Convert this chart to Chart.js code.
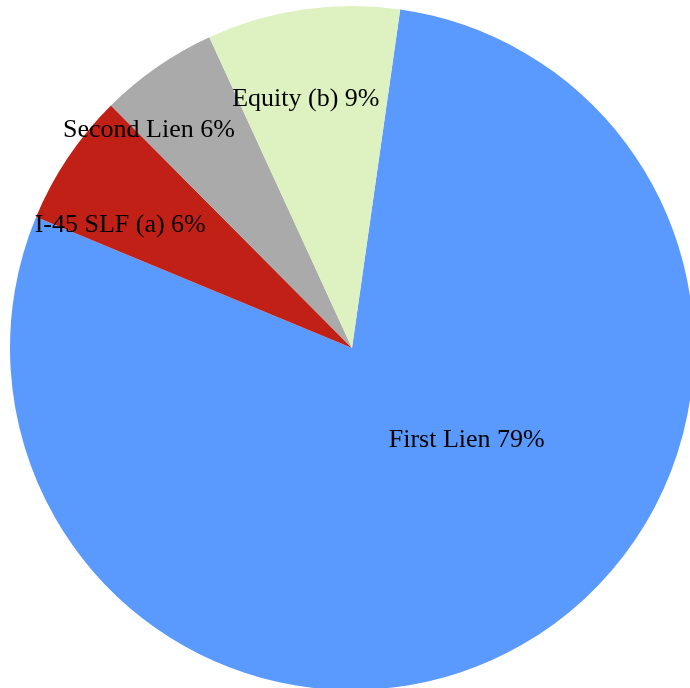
<!DOCTYPE html>
<html>
<head>
<meta charset="utf-8">
<script src="https://cdn.jsdelivr.net/npm/chart.js@4/dist/chart.umd.min.js"></script>
<style>
  html, body { margin: 0; padding: 0; background: #fff; overflow: hidden; }
  #wrap { position: absolute; left: 0; top: 0; }
</style>
</head>
<body>
<div id="wrap"><canvas id="pie" width="704" height="696"></canvas></div>
<script>
// 데이터 (시계방향 순서)
const categories = ["First Lien", "I-45 SLF (a)", "Second Lien", "Equity (b)"];
const shares = [79.0, 6.3, 5.6, 9.1];
const sliceColors = ["#5a9aff", "#c02015", "#aaaaaa", "#def2c1"];

// 라벨 위치: 원 중심 기준 각도(위쪽 0°, 시계방향)와 반지름 비율
const labelSpots = [
  { deg: 130.8, r: 0.443 },
  { deg: 296.6, r: 0.758 },
  { deg: 316.1, r: 0.856 },
  { deg: 349.2, r: 0.720 }
];

const sliceLabels = {
  id: "sliceLabels",
  afterDatasetsDraw(chart) {
    const ctx = chart.ctx;
    const meta = chart.getDatasetMeta(0);
    const total = shares.reduce((a, b) => a + b, 0);
    ctx.save();
    ctx.font = "26px 'Liberation Serif', 'Times New Roman', serif";
    ctx.fillStyle = "#000";
    ctx.textAlign = "center";
    ctx.textBaseline = "alphabetic";
    meta.data.forEach((arc, i) => {
      const spot = labelSpots[i];
      const a = spot.deg * Math.PI / 180;
      const x = arc.x + Math.sin(a) * arc.outerRadius * spot.r;
      const y = arc.y - Math.cos(a) * arc.outerRadius * spot.r;
      const pct = Math.round(shares[i] / total * 100);
      ctx.fillText(`${categories[i]} ${pct}%`, x, y);
    });
    ctx.restore();
  }
};

new Chart(document.getElementById("pie").getContext("2d"), {
  type: "pie",
  data: {
    labels: categories,
    datasets: [{
      data: shares,
      backgroundColor: sliceColors,
      borderWidth: 0
    }]
  },
  options: {
    responsive: false,
    animation: false,
    rotation: 8.1,
    layout: { padding: { left: 10, right: 10, top: 6, bottom: 6 } },
    plugins: {
      legend: { display: false },
      tooltip: { enabled: false }
    }
  },
  plugins: [sliceLabels]
});
</script>
</body>
</html>
